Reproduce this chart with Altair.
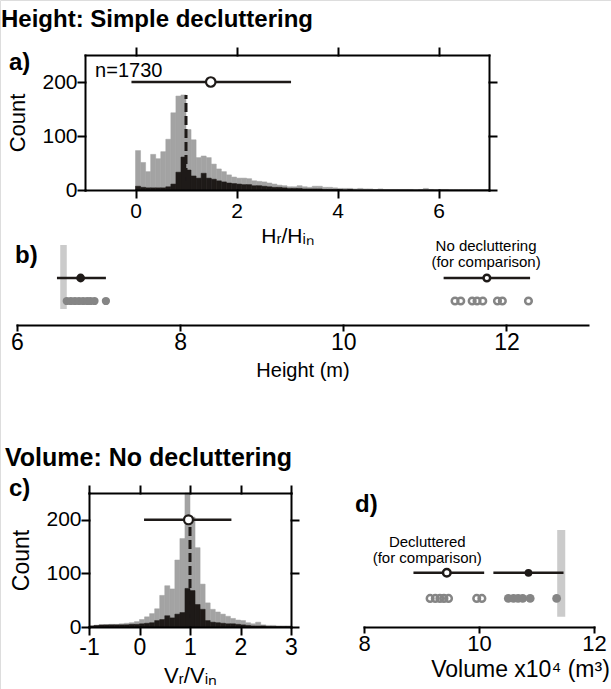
import altair as alt
import pandas as pd

FONT = "Liberation Sans"
W, H = 611, 689
GRAY = "#a3a3a3"
BLACK = "#1e1a18"
BAND = "#cbcbcb"
DOT = "#858585"

# ---------------- data ----------------
# panel a: Hr/Hin histogram, bins of 0.1 starting at 0
a_bin_start, a_bin_width = 0.0, 0.1
a_all = [73, 51, 34, 66, 58, 71, 94, 143, 174, 176,
         112, 93, 60, 63, 60, 48, 39, 34, 28, 24,
         22, 22, 21, 17, 16, 15, 13, 11, 9, 8,
         6, 6, 8, 6, 5, 7, 7, 5, 5, 4,
         3, 3, 3, 2, 3, 2, 2, 1, 2, 1,
         1, 1, 1, 1, 1, 0, 1, 3, 1, 0,
         1, 1, 0, 0, 0, 0, 0, 0, 0, 0]
a_sub = [7, 5, 4, 4, 4, 4, 6, 11, 33, 61,
         37, 26, 22, 31, 22, 20, 17, 15, 13, 12,
         11, 10, 10, 8, 8, 7, 6, 5, 5, 4,
         3, 3, 3, 2, 2, 2, 2, 1, 1, 1,
         1, 0, 1, 0, 0, 0, 0, 0, 0, 0,
         0, 0, 0, 0, 0, 0, 0, 0, 0, 0,
         0, 0, 0, 0, 0, 0, 0, 0, 0, 0]
a_ref, a_ref_top = 1.0, 176
a_mean, a_lo, a_hi, a_level = 1.49, -0.08, 3.08, 200
a_n_label = "n=1730"

# panel b: heights (m)
b_band = [6.53, 6.61]
b_dec = [6.61, 6.66, 6.71, 6.76, 6.81, 6.86, 6.90, 6.95, 7.09]
b_dec_mean, b_dec_ci = 6.78, [6.49, 7.09]
b_nodec = [11.37, 11.44, 11.58, 11.64, 11.71, 11.89, 11.95, 12.27]
b_nodec_mean, b_nodec_ci = 11.76, [11.23, 12.29]
b_note = ["No decluttering", "(for comparison)"]

# panel c: Vr/Vin histogram, bins of 0.1 starting at -1
c_bin_start, c_bin_width = -1.0, 0.1
c_all = [2, 3, 3, 4, 5, 5, 6, 7, 8, 10,
         14, 19, 25, 34, 59, 77, 71, 125, 165, 250,
         205, 148, 80, 45, 33, 28, 24, 20, 16, 13,
         12, 8, 6, 9, 4, 3, 3, 2, 2, 2]
c_sub = [2, 3, 4, 4, 4, 4, 4, 4, 5, 5,
         6, 7, 8, 12, 14, 21, 17, 24, 27, 72,
         68, 42, 33, 12, 9, 8, 7, 6, 6, 5,
         4, 3, 2, 2, 2, 1, 1, 1, 1, 1]
c_ref, c_ref_top = 1.0, 198
c_mean, c_lo, c_hi, c_level = 0.97, 0.09, 1.82, 200

# panel d: volumes (x10^4 m^3)
d_band = [11.36, 11.50]
d_nodec = [10.51, 10.60, 10.68, 10.76, 10.89, 11.35]
d_nodec_mean, d_nodec_ci = 10.86, [10.25, 11.47]
d_dec = [9.15, 9.24, 9.32, 9.39, 9.47, 9.96, 10.05]
d_dec_mean, d_dec_ci = 9.44, [8.86, 10.09]
d_note = ["Decluttered", "(for comparison)"]

# row levels in the strip panels
ROW_SAMPLES, ROW_MEAN = 1, 2


def hist_frame(start, width, counts):
    lo = [round(start + i * width, 4) for i in range(len(counts))]
    hi = [round(v + width, 4) for v in lo]
    return pd.DataFrame({"lo": lo, "hi": hi, "count": counts, "base": [0] * len(counts)})


def lin(domain, rng):
    return alt.Scale(domain=domain, range=rng, nice=False, zero=False)


AXS = dict(domainColor="black", domainWidth=2, domainCap="square", tickColor="black",
           tickWidth=2, tickCap="square", labelColor="black", titleColor="black",
           labelFont=FONT, titleFont=FONT, grid=False, labelFlush=False,
           labelOverlap=False, titleFontWeight="normal", zindex=1)
HYPHEN = "datum.value < 0 ? '-' + format(abs(datum.value), 'd') : datum.label"

# ---------------- scales ----------------
AX = lin([-1, 7], [85, 489])
AY = lin([0, 250], [190, 55])
BX = lin([6, 13], [17, 588])
BY = lin([0, 4], [324, 232])
CX = lin([-1, 3], [89, 291])
CY = lin([0, 250], [627, 493])
DX = lin([8, 12], [364, 594])
DY = lin([0, 4], [624, 521.6])

layers = []

# ---------------- panel a ----------------
ha = hist_frame(a_bin_start, a_bin_width, a_all)
hs = hist_frame(a_bin_start, a_bin_width, a_sub)
layers.append(alt.Chart(ha).mark_rect(fill=GRAY, stroke=GRAY, strokeWidth=0.5).encode(
    x=alt.X("lo:Q", scale=AX, axis=alt.Axis(orient="bottom", offset=190 - H, values=[0, 2, 4, 6],
            tickSize=7, labelFontSize=21, labelPadding=3, title="Hᵣ/Hᵢₙ", titleFontSize=21,
            titlePadding=4, **AXS)),
    x2="hi:Q",
    y=alt.Y("count:Q", scale=AY, axis=alt.Axis(orient="left", offset=-85, values=[0, 100, 200],
            tickSize=7, labelFontSize=21, labelPadding=1, title="Count", titleFontSize=22,
            titlePadding=12, **AXS)),
    y2="base:Q"))
layers.append(alt.Chart(hs).mark_rect(fill=BLACK, stroke=BLACK, strokeWidth=0.5).encode(
    x=alt.X("lo:Q", scale=AX, axis=None), x2="hi:Q",
    y=alt.Y("count:Q", scale=AY, axis=None), y2="base:Q"))
layers.append(alt.Chart(pd.DataFrame({"x": [-1], "y": [0]})).mark_point(opacity=0).encode(
    x=alt.X("x:Q", scale=AX, axis=alt.Axis(orient="top", offset=-55, values=[0, 2, 4, 6],
            tickSize=7, labels=False, title=None, **AXS)),
    y=alt.Y("y:Q", scale=AY, axis=alt.Axis(orient="right", offset=489 - W, values=[0, 100, 200],
            tickSize=7, labels=False, title=None, **AXS))))
layers.append(alt.Chart(pd.DataFrame({"x": [a_ref], "y0": [0], "y1": [a_ref_top]})).mark_rule(
    color=BLACK, strokeWidth=3, strokeDash=[9, 4]).encode(
    x=alt.X("x:Q", scale=AX, axis=None), y=alt.Y("y0:Q", scale=AY, axis=None), y2="y1:Q"))
layers.append(alt.Chart(pd.DataFrame({"lo": [a_lo], "hi": [a_hi], "y": [a_level]})).mark_rule(
    color=BLACK, strokeWidth=2.5).encode(
    x=alt.X("lo:Q", scale=AX, axis=None), x2="hi:Q", y=alt.Y("y:Q", scale=AY, axis=None)))
layers.append(alt.Chart(pd.DataFrame({"x": [a_mean], "y": [a_level]})).mark_point(
    shape="circle", filled=True, fill="white", stroke=BLACK, strokeWidth=2.2, size=90, opacity=1).encode(
    x=alt.X("x:Q", scale=AX, axis=None), y=alt.Y("y:Q", scale=AY, axis=None)))
layers.append(alt.Chart(pd.DataFrame({"x": [-0.8], "y": [209], "t": [a_n_label]})).mark_text(
    align="left", baseline="alphabetic", fontSize=20, font=FONT, color="black").encode(
    x=alt.X("x:Q", scale=AX, axis=None), y=alt.Y("y:Q", scale=AY, axis=None), text="t:N"))


# ---------------- strip panels (b, d) ----------------
def strip_layers(XS, YS, band, band_y, filled, filled_mean, filled_ci, open_, open_mean, open_ci,
                 note, note_x, note_y, axis, filled_size, open_size, fmean_size, omean_size):
    out = []
    out.append(alt.Chart(pd.DataFrame({"lo": [band[0]], "hi": [band[1]], "y0": [band_y[0]],
                                       "y1": [band_y[1]]})).mark_rect(fill=BAND).encode(
        x=alt.X("lo:Q", scale=XS, axis=axis), x2="hi:Q",
        y=alt.Y("y0:Q", scale=YS, axis=None), y2="y1:Q"))
    out.append(alt.Chart(pd.DataFrame({"lo": [filled_ci[0], open_ci[0]], "hi": [filled_ci[1], open_ci[1]],
                                       "y": [ROW_MEAN, ROW_MEAN]})).mark_rule(
        color=BLACK, strokeWidth=2.5).encode(
        x=alt.X("lo:Q", scale=XS, axis=None), x2="hi:Q", y=alt.Y("y:Q", scale=YS, axis=None)))
    out.append(alt.Chart(pd.DataFrame({"x": filled, "y": [ROW_SAMPLES] * len(filled)})).mark_point(
        shape="circle", filled=True, fill=DOT, strokeWidth=0, size=filled_size, opacity=1).encode(
        x=alt.X("x:Q", scale=XS, axis=None), y=alt.Y("y:Q", scale=YS, axis=None)))
    out.append(alt.Chart(pd.DataFrame({"x": open_, "y": [ROW_SAMPLES] * len(open_)})).mark_point(
        shape="circle", filled=False, stroke=DOT, strokeWidth=2.5, size=open_size, opacity=1).encode(
        x=alt.X("x:Q", scale=XS, axis=None), y=alt.Y("y:Q", scale=YS, axis=None)))
    out.append(alt.Chart(pd.DataFrame({"x": [filled_mean], "y": [ROW_MEAN]})).mark_point(
        shape="circle", filled=True, fill=BLACK, strokeWidth=0, size=fmean_size, opacity=1).encode(
        x=alt.X("x:Q", scale=XS, axis=None), y=alt.Y("y:Q", scale=YS, axis=None)))
    out.append(alt.Chart(pd.DataFrame({"x": [open_mean], "y": [ROW_MEAN]})).mark_point(
        shape="circle", filled=True, fill="white", stroke=BLACK, strokeWidth=2.5, size=omean_size,
        opacity=1).encode(
        x=alt.X("x:Q", scale=XS, axis=None), y=alt.Y("y:Q", scale=YS, axis=None)))
    out.append(alt.Chart(pd.DataFrame({"x": [note_x, note_x], "y": note_y, "t": note})).mark_text(
        align="center", baseline="middle", fontSize=15, font=FONT, color="black").encode(
        x=alt.X("x:Q", scale=XS, axis=None), y=alt.Y("y:Q", scale=YS, axis=None), text="t:N"))
    return out


layers += strip_layers(
    BX, BY, b_band, [0.65, 3.43], b_dec, b_dec_mean, b_dec_ci, b_nodec, b_nodec_mean, b_nodec_ci,
    b_note, 11.75, [3.37, 2.68],
    alt.Axis(orient="bottom", offset=325 - H, values=[6, 8, 10, 12], tickSize=5, labelFontSize=23,
             labelPadding=1, title="Height (m)", titleFontSize=20, titlePadding=6, **AXS),
    68, 44, 78, 44)

# ---------------- panel c ----------------
hca = hist_frame(c_bin_start, c_bin_width, c_all)
hcs = hist_frame(c_bin_start, c_bin_width, c_sub)
layers.append(alt.Chart(hca).mark_rect(fill=GRAY, stroke=GRAY, strokeWidth=0.5).encode(
    x=alt.X("lo:Q", scale=CX, axis=alt.Axis(orient="bottom", offset=627 - H, values=[-1, 0, 1, 2, 3],
            tickSize=7, labelFontSize=23, labelPadding=2, labelExpr=HYPHEN, title="Vᵣ/Vᵢₙ",
            titleFontSize=22, titlePadding=6, **AXS)),
    x2="hi:Q",
    y=alt.Y("count:Q", scale=CY, axis=alt.Axis(orient="left", offset=-89, values=[0, 100, 200],
            tickSize=7, labelFontSize=21, labelPadding=1, title="Count", titleFontSize=23,
            titlePadding=12, **AXS)),
    y2="base:Q"))
layers.append(alt.Chart(hcs).mark_rect(fill=BLACK, stroke=BLACK, strokeWidth=0.5).encode(
    x=alt.X("lo:Q", scale=CX, axis=None), x2="hi:Q",
    y=alt.Y("count:Q", scale=CY, axis=None), y2="base:Q"))
layers.append(alt.Chart(pd.DataFrame({"x": [-1], "y": [0]})).mark_point(opacity=0).encode(
    x=alt.X("x:Q", scale=CX, axis=alt.Axis(orient="top", offset=-493, values=[-1, 0, 1, 2, 3],
            tickSize=7, labels=False, title=None, **AXS)),
    y=alt.Y("y:Q", scale=CY, axis=alt.Axis(orient="right", offset=291 - W, values=[0, 100, 200],
            tickSize=7, labels=False, title=None, **AXS))))
layers.append(alt.Chart(pd.DataFrame({"x": [c_ref], "y0": [0], "y1": [c_ref_top]})).mark_rule(
    color=BLACK, strokeWidth=3, strokeDash=[9, 4]).encode(
    x=alt.X("x:Q", scale=CX, axis=None), y=alt.Y("y0:Q", scale=CY, axis=None), y2="y1:Q"))
layers.append(alt.Chart(pd.DataFrame({"lo": [c_lo], "hi": [c_hi], "y": [c_level]})).mark_rule(
    color=BLACK, strokeWidth=2.5).encode(
    x=alt.X("lo:Q", scale=CX, axis=None), x2="hi:Q", y=alt.Y("y:Q", scale=CY, axis=None)))
layers.append(alt.Chart(pd.DataFrame({"x": [c_mean], "y": [c_level]})).mark_point(
    shape="circle", filled=True, fill="white", stroke=BLACK, strokeWidth=2.2, size=80, opacity=1).encode(
    x=alt.X("x:Q", scale=CX, axis=None), y=alt.Y("y:Q", scale=CY, axis=None)))

# ---------------- panel d ----------------
layers += strip_layers(
    DX, DY, d_band, [0.28, 3.67], d_nodec, d_nodec_mean, d_nodec_ci, d_dec, d_dec_mean, d_dec_ci,
    d_note, 9.10, [3.21, 2.56],
    alt.Axis(orient="bottom", offset=627 - H, values=[8, 10, 12], tickSize=5, labelFontSize=22,
             labelPadding=1, title="Volume x10⁴ (m³)", titleFontSize=23, titlePadding=4, titleX=520,
             **AXS),
    78, 44, 60, 57)

# ---------------- headings and panel letters ----------------
def label(text, x, y, size):
    return alt.Chart(pd.DataFrame({"t": [text]})).mark_text(
        align="left", baseline="alphabetic", fontSize=size, fontWeight="bold", font=FONT,
        color="black").encode(x=alt.value(x), y=alt.value(y), text="t:N")


layers += [
    label("Height: Simple decluttering", 1, 27, 24),
    label("Volume: No decluttering", 5, 466, 25),
    label("a)", 9, 70, 24),
    label("b)", 15, 263, 24),
    label("c)", 9, 496, 24),
    label("d)", 355, 512, 24),
]

chart = alt.layer(*layers).resolve_scale(x="independent", y="independent").properties(
    width=W, height=H, padding=0, autosize="none"
).configure_view(stroke=None).configure(font=FONT, background="white")

chart.save("out.html", embed_options={"renderer": "svg", "actions": False})
